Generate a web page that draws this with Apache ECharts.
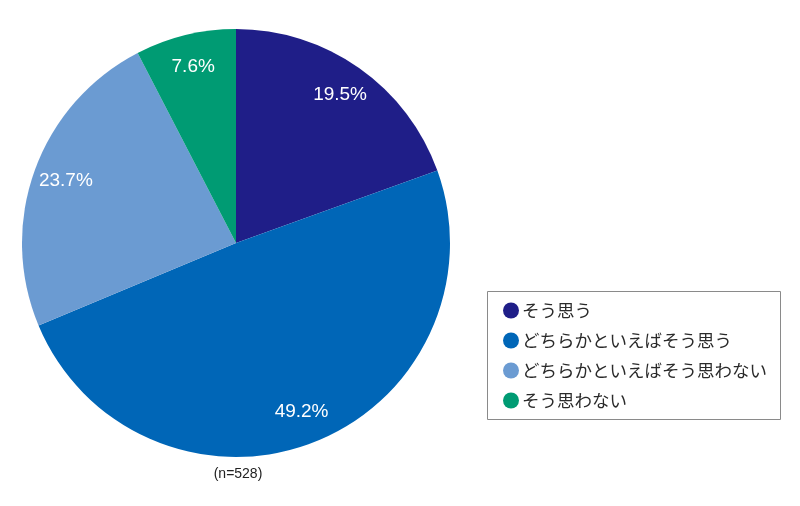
<!DOCTYPE html>
<html>
<head>
<meta charset="utf-8">
<script src="https://cdn.jsdelivr.net/npm/echarts@6/dist/echarts.min.js"></script>
<style>
  html, body { margin: 0; padding: 0; background: #fff; }
  #main { width: 800px; height: 506px; }
</style>
</head>
<body>
<div id="main"></div>
<script>
var categories = ['そう思う', 'どちらかといえばそう思う', 'どちらかといえばそう思わない', 'そう思わない'];
var values = [19.5, 49.2, 23.7, 7.6];
var colors = ['#1f1e88', '#0066b7', '#6b9bd2', '#009b73'];
var note = '(n=528)';

var pieData = categories.map(function (name, i) {
    return { name: name, value: values[i], itemStyle: { color: colors[i] } };
});

var myChart = echarts.init(document.getElementById('main'));
var option = {
    animation: false,
    graphic: [
        {
            type: 'rect',
            shape: { x: 487.5, y: 291.5, width: 293, height: 128 },
            style: { fill: '#fff', stroke: '#8a8a8a', lineWidth: 1 },
            z: -1
        },
        {
            type: 'text',
            x: 238, y: 474,
            style: {
                text: note, font: '14px "Liberation Sans", Arial, sans-serif', fill: '#222',
                textAlign: 'center', textVerticalAlign: 'middle'
            }
        }
    ],
    legend: {
        orient: 'vertical',
        left: 498,
        top: 296,
        itemGap: 11,
        itemWidth: 16,
        itemHeight: 16,
        icon: 'circle',
        textStyle: {
            fontSize: 17.5, lineHeight: 19, color: '#2a2a2a',
            fontFamily: '"Noto Sans CJK JP", sans-serif', padding: [0, 0, 0, -2]
        },
        data: categories
    },
    series: [
        {
            type: 'pie',
            center: [236, 243],
            radius: [0, 214],
            startAngle: 90,
            clockwise: true,
            label: { show: false },
            labelLine: { show: false },
            emphasis: { disabled: true },
            data: pieData
        },
        {
            type: 'pie',
            center: [236, 243],
            radius: [142, 214],
            startAngle: 90,
            clockwise: true,
            silent: true,
            itemStyle: { color: 'transparent' },
            label: {
                show: true,
                position: 'inside',
                color: '#fff',
                fontSize: 19,
                fontFamily: '"Liberation Sans", Arial, sans-serif',
                formatter: function (p) { return p.value.toFixed(1) + '%'; }
            },
            labelLine: { show: false },
            emphasis: { disabled: true },
            data: categories.map(function (name, i) { return { name: name, value: values[i] }; })
        }
    ]
};
myChart.setOption(option);
</script>
</body>
</html>
